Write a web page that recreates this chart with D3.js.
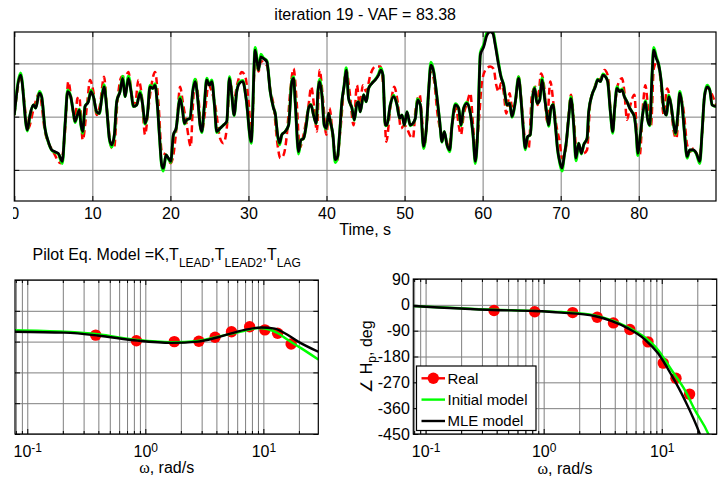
<!DOCTYPE html>
<html><head><meta charset="utf-8">
<script src="https://d3js.org/d3.v7.min.js"></script>
<style>
body{margin:0;background:#fff;}
svg text{font-family:Arial,"Liberation Sans",Helvetica,sans-serif;fill:#000;}
</style></head><body>
<svg id="chart" width="726" height="479"></svg>
<script>
// ---------- Top panel: time series ----------
const timeModel = [0,0.81,1.67,2.01,2.44,2.74,3.21,3.50,3.93,4.36,4.79,5.21,5.64,6.15,6.50,6.84,7.22,7.56,7.78,8.08,8.33,8.55,8.76,9.06,9.49,9.83,10.13,10.56,10.90,11.20,11.50,11.84,12.18,12.48,12.82,13.12,13.55,13.89,14.19,14.62,14.96,15.26,15.68,16.11,16.45,16.75,17.05,17.39,17.74,18.03,18.33,18.59,18.89,19.10,19.44,19.74,20.04,20.38,20.73,21.24,21.58,21.79,22.09,22.52,22.86,23.16,23.50,23.80,24.02,24.32,24.66,25.00,25.30,25.64,25.94,26.37,26.79,27.22,27.56,27.86,28.16,28.50,28.85,29.27,29.70,30.35,30.86,31.29,31.59,31.93,32.36,32.79,33.21,33.43,33.73,33.98,34.28,34.71,35.14,35.56,35.78,35.99,36.42,36.72,37.06,37.40,37.70,38.00,38.34,38.68,38.90,39.11,39.41,39.71,39.97,40.26,40.48,40.82,41.12,41.42,41.67,41.97,42.27,42.53,42.83,43.26,43.56,43.90,44.11,44.32,44.75,45.09,45.39,45.82,46.25,46.67,46.97,47.23,47.53,47.74,48.17,48.60,49.03,49.37,49.67,49.97,50.31,50.73,51.08,51.38,51.67,52.02,52.44,52.79,53.08,53.38,53.73,54.07,54.50,54.79,55.09,55.44,55.78,56.08,56.50,56.93,57.23,57.57,58.00,58.43,58.77,59.07,59.37,59.71,60.14,60.56,60.98,61.32,61.62,62.05,62.35,62.69,63.12,63.46,63.76,64.19,64.61,64.91,65.17,65.47,65.77,66.11,66.45,66.67,66.97,67.31,67.61,67.95,68.25,68.46,68.76,69.02,69.32,69.61,69.87,70.17,70.47,70.73,71.02,71.32,71.67,71.96,72.31,72.65,72.95,73.38,73.59,74.02,74.44,74.74,75.08,75.43,75.73,76.02,76.37,76.67,76.92,77.22,77.56,77.86,78.16,78.50,78.85,79.14,79.44,79.70,79.87,80.21,80.55,80.85,81.15,81.41,81.71,81.92,82.26,82.56,82.86,83.20,83.55,83.85,84.14,84.49,84.70,85.00,85.26,85.55,85.85,86.20,86.54,86.97,87.39,87.82,88.12,88.42,88.76,89.10,89.40,89.90];
const mleValues = [0.03,0.78,-0.25,0.03,0.22,0.16,0.44,0.375,-0.22,-0.47,-0.625,-0.66,-0.69,-0.84,-0.16,0.47,0.375,0.09,-0.09,0.03,0.125,-0.16,-0.28,0.19,0.28,0.47,0.375,0.09,0.06,0.34,0.56,0.16,-0.41,-0.53,-0.34,0.28,0.47,0.72,0.375,0.72,0.47,0.19,0.22,0.44,0.22,-0.125,0.03,0.56,0.53,0.59,0.22,-0.34,-0.91,-0.97,-0.72,-0.78,-0.84,-0.34,-0.22,0.34,0.09,-0.125,-0.06,-0.03,0.47,0.66,0.34,-0.16,-0.28,0.16,0.69,0.59,0.66,0.22,-0.28,-0.22,-0.16,-0.09,0.72,0.41,0.03,0.47,0.625,0.66,0.34,-0.47,1.25,0.875,1.125,1.09,1.03,0.47,0.16,0.06,-0.34,-0.5,-0.34,-0.28,-0.16,0.66,0.72,0.28,-0.66,-0.44,-0.41,-0.16,0.16,0.22,0.03,-0.125,0.47,0.66,0.41,-0.16,-0.22,0.06,-0.09,-0.34,-0.81,-0.75,-0.34,0.28,0.59,0.875,0.34,0.16,-0.06,0.25,0.28,0.09,0.41,0.28,0.53,0.625,0.69,0.78,0.875,0.78,-0.16,-0.16,0.22,0.375,0.22,-0.03,0.03,-0.16,0.09,-0.16,-0.125,-0.03,0.31,0.22,-0.56,-0.22,0.47,0.97,0.84,0.47,-0.09,-0.47,-0.28,-0.53,-0.625,-0.16,0.22,0.16,-0.16,0.16,0.25,0.06,-0.34,-0.84,-0.28,1.16,1.31,1.53,1.59,1.56,1.34,0.97,0.75,0.59,0.22,0.25,0,0.28,0.72,0.34,-0.16,-0.59,-0.375,-0.34,0.41,0.53,0.25,0.31,0.69,0.34,0.03,-0.16,0.16,0.22,-0.16,-0.625,-0.84,-0.97,-0.72,-0.47,-0.03,0.34,-0.16,-0.78,-0.5,-0.69,-0.53,-0.41,0.09,0.41,0.56,0.69,0.66,0.78,0.75,0.66,0.09,-0.28,0.16,0.53,0.47,0.5,0.375,0.28,0.16,0.09,0,-0.34,-0.69,-0.34,0.09,0.28,-0.06,-0.16,0.78,1.25,1.09,0.97,0.69,0.16,0.03,0.375,0.22,-0.16,-0.31,0.03,0.44,0.22,-0.28,-0.75,-0.625,-0.625,-0.69,-0.84,-0.28,0.375,0.56,0.5,0.22,0.19];
const initValues = [0.03,0.82,-0.27,0.03,0.22,0.16,0.47,0.38,-0.22,-0.48,-0.63,-0.67,-0.7,-0.88,-0.16,0.5,0.38,0.08,-0.11,0.03,0.14,-0.17,-0.31,0.19,0.29,0.5,0.38,0.08,0.06,0.35,0.6,0.16,-0.42,-0.57,-0.35,0.28,0.48,0.76,0.38,0.76,0.48,0.19,0.22,0.47,0.22,-0.14,0.03,0.59,0.53,0.62,0.22,-0.35,-0.93,-1.02,-0.72,-0.79,-0.86,-0.35,-0.23,0.37,0.09,-0.14,-0.06,-0.03,0.48,0.7,0.34,-0.16,-0.3,0.16,0.72,0.6,0.69,0.22,-0.3,-0.22,-0.16,-0.1,0.75,0.41,0.02,0.48,0.65,0.68,0.34,-0.5,1.3,0.88,1.17,1.1,1.05,0.47,0.16,0.06,-0.35,-0.53,-0.34,-0.28,-0.16,0.68,0.75,0.28,-0.7,-0.44,-0.41,-0.16,0.16,0.23,0.03,-0.13,0.48,0.7,0.41,-0.17,-0.23,0.06,-0.09,-0.35,-0.86,-0.76,-0.34,0.28,0.6,0.92,0.34,0.16,-0.07,0.25,0.28,0.09,0.41,0.28,0.53,0.63,0.7,0.8,0.91,0.78,-0.17,-0.16,0.22,0.4,0.22,-0.03,0.03,-0.16,0.09,-0.17,-0.13,-0.03,0.33,0.22,-0.6,-0.22,0.48,1.02,0.85,0.47,-0.09,-0.48,-0.28,-0.54,-0.66,-0.16,0.24,0.16,-0.17,0.16,0.27,0.06,-0.35,-0.88,-0.28,1.2,1.35,1.58,1.62,1.6,1.38,1.0,0.76,0.6,0.22,0.25,-0.01,0.28,0.75,0.34,-0.16,-0.62,-0.38,-0.34,0.41,0.55,0.25,0.31,0.72,0.34,0.03,-0.18,0.16,0.23,-0.16,-0.63,-0.86,-1.02,-0.72,-0.47,-0.03,0.37,-0.16,-0.83,-0.5,-0.7,-0.53,-0.41,0.09,0.41,0.57,0.7,0.66,0.8,0.76,0.66,0.09,-0.31,0.16,0.56,0.47,0.52,0.38,0.28,0.16,0.09,0,-0.35,-0.73,-0.34,0.09,0.3,-0.06,-0.17,0.8,1.3,1.12,0.98,0.69,0.16,0.03,0.4,0.22,-0.16,-0.33,0.03,0.47,0.22,-0.28,-0.78,-0.63,-0.63,-0.7,-0.88,-0.28,0.38,0.59,0.5,0.22,0.19];
const timeReal = [0,0.81,1.79,2.44,3.21,3.93,5.0,5.94,6.50,6.92,7.35,7.78,8.08,8.33,8.55,8.76,9.36,9.70,10.13,10.56,10.98,11.50,11.92,12.48,12.78,13.21,13.76,14.19,14.62,15.04,15.47,15.90,16.32,16.75,17.18,17.61,18.03,18.46,18.89,19.44,20.04,20.38,20.81,21.24,21.58,22.09,22.61,22.86,23.16,23.59,24.02,24.44,24.87,25.30,25.73,26.37,26.79,27.22,27.65,28.08,28.59,29.15,29.6,30.0,30.4,30.86,31.3,31.6,32.0,32.4,32.8,33.21,33.73,34.07,34.5,34.92,35.35,35.78,36.2,36.55,37.06,37.7,38.04,38.43,38.77,39.11,39.54,39.97,40.39,40.82,41.33,41.76,42.53,42.96,43.47,43.90,44.24,44.67,45.09,45.61,46.25,46.89,47.32,47.66,48.17,48.68,49.11,49.54,49.97,50.31,50.65,51.08,51.38,51.93,52.23,52.53,52.87,53.30,53.73,54.24,54.79,55.22,55.65,56.08,56.63,56.93,57.23,57.57,58.0,58.43,58.77,59.11,59.54,59.92,60.48,60.98,61.41,61.75,62.05,62.35,62.69,63.03,63.46,63.76,64.19,64.61,65.04,65.47,65.90,66.32,66.75,67.05,67.48,67.91,68.25,68.67,69.10,69.44,69.87,70.17,70.60,71.02,71.32,71.67,72.09,72.52,72.95,73.38,73.80,74.23,74.74,75.17,75.60,76.02,76.37,76.67,77.01,77.31,77.86,78.16,78.50,78.93,79.44,79.79,80.13,80.55,80.85,81.28,81.58,81.92,82.35,82.78,83.20,83.63,84.06,84.49,84.83,85.26,85.77,86.20,86.62,87.05,87.69,88.12,88.42,88.85,89.40,89.90];
const realValues = [0.03,0.72,-0.22,0.125,0.44,-0.28,-0.66,-0.875,-0.28,0.66,0.28,-0.09,0.34,0.375,-0.03,-0.44,0.28,0.69,0.47,0.03,0.22,0.75,0.03,-0.59,-0.59,0.28,0.75,0.75,0.84,0.41,0.22,0.69,0.41,-0.34,0.16,0.625,0.84,0.28,-0.66,-0.72,-0.875,-0.72,-0.16,0.56,0.28,-0.16,-0.56,0.16,0.72,0.34,-0.28,0.09,0.59,0.47,0.22,-0.41,-0.5,-0.22,0.69,0.28,0.625,0.84,0.75,0.3,-0.34,1.1,0.85,1.05,1.0,0.95,0.5,0.22,-0.53,-0.78,-0.72,-0.34,0.47,0.9,0.22,-0.59,-0.34,0.22,0.56,0.16,-0.28,0.875,0.34,-0.34,0.16,-0.41,-0.84,-0.28,0.875,0.47,-0.16,0.59,0.22,0.59,0.47,0.78,0.94,0.94,0.47,-0.47,0.16,0.56,0.28,-0.22,-0.16,-0.22,-0.34,-0.41,0.09,0.41,-0.03,-0.56,-0.09,0.84,0.72,0.03,-0.34,-0.41,-0.59,-0.16,0.16,-0.16,-0.34,0.03,0.25,0.44,-0.16,-0.66,-0.03,0.66,0.9,0.94,0.9,0.59,0.47,0.625,0.47,0.06,0.44,0.19,0.28,0.75,0.16,-0.47,-0.59,0.41,0.56,0.22,0.81,0.53,-0.09,0.66,0.22,-0.16,-0.47,-0.78,-0.66,0.03,0.41,-0.03,-0.72,-0.59,-0.69,-0.625,0.28,0.5,0.69,0.72,0.875,0.78,0.16,-0.22,0.28,0.59,0.72,0.47,-0.06,0.22,0.41,-0.41,-0.72,0.22,0.59,0.03,-0.16,0.9,1.03,0.72,0.03,0.53,0.28,-0.28,-0.41,0.41,0.09,-0.53,-0.66,-0.59,-0.78,-0.34,0.375,0.56,0.41,0.22];
const timeTicks = [0,10,20,30,40,50,60,70,80];
const ampTicks = [-1,0,1];

// ---------- Bottom panels: frequency response ----------
const freqReal = [0.38,0.84,1.76,2.84,3.9,5.37,7.65,10.3,13.2,17.2];
const magReal = [-7.9,-9.7,-10.0,-9.9,-8.6,-6.8,-5.2,-6.2,-7.3,-10.8];
const phaseReal = [-20,-24,-27,-43,-63,-86,-129,-203,-256,-311];
const freqMagMLE = [0.0787,0.206,0.395,0.863,1.66,2.79,4.12,6.93,9.6,12.5,15.2,19.7,29.2];
const magMLE = [-6.8,-7.1,-8.0,-9.7,-10.4,-10.0,-8.6,-6.2,-5.4,-5.8,-7.3,-10.0,-13.3];
const freqMagInit = [0.0787,0.206,0.395,0.863,1.66,2.79,4.12,6.93,9.0,11.0,13.3,16.2,21,29.2];
const magInit = [-6.3,-6.8,-7.6,-9.5,-10.2,-9.8,-8.4,-6.5,-5.6,-6.0,-7.3,-9.5,-12.2,-15.8];
const freqPhaseMLE = [0.0787,0.38,0.83,1.41,2.7,3.74,5.18,7.17,9.3,12.1,15.7,21,24];
const phaseMLE = [-4,-18,-21.5,-27,-39,-56,-82,-120,-169,-245,-332,-450,-520];
const freqPhaseInit = [0.0787,0.38,0.83,1.41,2.7,3.74,5.18,7.17,9.3,12.1,15.7,19.05,24.8,28];
const phaseInit = [-4,-17,-21,-25,-36.5,-53,-78,-113,-157,-227,-297,-366,-450,-510];
const magTicks = [-40,-30,-20,-10,0,10];
const phaseTicks = [-450,-360,-270,-180,-90,0,90];
const decadeTicks = [0.1,1,10];
const minorFreqTicks = [0.08,0.09,0.2,0.3,0.4,0.5,0.6,0.7,0.8,0.9,2,3,4,5,6,7,8,9,20];
const legendLabels = ["Real","Initial model","MLE model"];
const seriesColors = ["#ff0000","#00ff00","#000000"];

// ---------- drawing ----------
const svg = d3.select("#chart");
const gridColor = "#7f7f7f";
const FS = 16;

function drawGrid(g, xs, xTicks, ys, yTicks, box){
  g.append("g").attr("transform",`translate(0,${box.b})`)
    .call(d3.axisBottom(xs).tickValues(xTicks).tickSize(-(box.b-box.t)).tickFormat(""))
    .call(s=>{s.select(".domain").remove(); s.selectAll("line").attr("stroke",gridColor).attr("stroke-width",1);});
  g.append("g").attr("transform",`translate(${box.l},0)`)
    .call(d3.axisLeft(ys).tickValues(yTicks).tickSize(-(box.r-box.l)).tickFormat(""))
    .call(s=>{s.select(".domain").remove(); s.selectAll("line").attr("stroke",gridColor).attr("stroke-width",1);});
}
function inwardTicks(g, xs, xTicks, ys, yTicks, box, len){
  const st = s=>{s.select(".domain").remove(); s.selectAll("line").attr("stroke","#000");};
  g.append("g").attr("transform",`translate(0,${box.t})`)
    .call(d3.axisTop(xs).tickValues(xTicks).tickSizeInner(-len).tickSizeOuter(0).tickFormat("")).call(st);
  g.append("g").attr("transform",`translate(0,${box.b})`)
    .call(d3.axisBottom(xs).tickValues(xTicks).tickSizeInner(-len).tickSizeOuter(0).tickFormat("")).call(st);
  if (ys){
    g.append("g").attr("transform",`translate(${box.l},0)`)
      .call(d3.axisLeft(ys).tickValues(yTicks).tickSizeInner(-len).tickSizeOuter(0).tickFormat("")).call(st);
    g.append("g").attr("transform",`translate(${box.r},0)`)
      .call(d3.axisRight(ys).tickValues(yTicks).tickSizeInner(-len).tickSizeOuter(0).tickFormat("")).call(st);
  }
}
function frame(g, box){
  g.append("rect").attr("x",box.l).attr("y",box.t).attr("width",box.r-box.l).attr("height",box.b-box.t)
    .attr("fill","none").attr("stroke","#000").attr("stroke-width",1.2);
}
function clip(id, box){
  svg.append("clipPath").attr("id",id).append("rect")
    .attr("x",box.l).attr("y",box.t).attr("width",box.r-box.l).attr("height",box.b-box.t);
}

// ===== Top panel =====
const T = {l:14.3, r:716, t:32, b:201};
const xT = d3.scaleLinear().domain([0,89.9]).range([T.l,T.r]);
const yT = d3.scaleLinear().domain([-1.585,1.59]).range([T.b,T.t]);
const gT = svg.append("g");
drawGrid(gT, xT, timeTicks, yT, ampTicks, T);
clip("clipT", T);
const lineT = d3.line().x(d=>xT(d[0])).y(d=>yT(d[1])).curve(d3.curveMonotoneX);
const gTL = gT.append("g").attr("clip-path","url(#clipT)");
gTL.append("path").datum(d3.zip(timeReal, realValues)).attr("d",lineT)
  .attr("fill","none").attr("stroke",seriesColors[0]).attr("stroke-width",2.5).attr("stroke-dasharray","7,4");
gTL.append("path").datum(d3.zip(timeModel, initValues)).attr("d",lineT)
  .attr("fill","none").attr("stroke",seriesColors[1]).attr("stroke-width",3);
gTL.append("path").datum(d3.zip(timeModel, mleValues)).attr("d",lineT)
  .attr("fill","none").attr("stroke",seriesColors[2]).attr("stroke-width",2.7);
inwardTicks(gT, xT, timeTicks, yT, ampTicks, T, 5);
frame(gT, T);
gT.append("g").attr("transform",`translate(0,${T.b})`)
  .call(d3.axisBottom(xT).tickValues(timeTicks).tickSize(0).tickPadding(7).tickFormat(d=>String(d)))
  .call(s=>{s.select(".domain").remove(); s.selectAll("text").attr("font-size",FS).attr("font-family",null);});
svg.append("text").attr("x",(T.l+T.r)/2).attr("y",235).attr("text-anchor","middle").attr("font-size",FS).text("Time, s");
svg.append("text").attr("x",(T.l+T.r)/2).attr("y",20).attr("text-anchor","middle").attr("font-size",FS).text("iteration 19 - VAF = 83.38");

// ===== helpers for Bode panels =====
function logLabels(sel){
  sel.selectAll(".tick text").each(function(d){
    const t = d3.select(this);
    const e = Math.round(Math.log10(d));
    t.text(null);
    t.append("tspan").text("10");
    t.append("tspan").attr("dy","-5").attr("font-size","12px").text(String(e));
  });
}
function omegaLabel(x, y){
  const t = svg.append("text").attr("x",x).attr("y",y).attr("text-anchor","middle").attr("font-size",FS);
  t.append("tspan").attr("font-family","'Liberation Serif','Times New Roman',serif").text("ω");
  t.append("tspan").text(", rad/s");
}
const fDomain = [0.0787, 29.2];

// ===== Magnitude panel =====
const M = {l:15, r:318.3, t:280, b:434};
const xM = d3.scaleLog().domain(fDomain).range([M.l,M.r]);
const yM = d3.scaleLinear().domain([-40,10]).range([M.b,M.t]);
const gM = svg.append("g");
drawGrid(gM, xM, decadeTicks.concat(minorFreqTicks), yM, magTicks, M);
clip("clipM", M);
const lineM = d3.line().x(d=>xM(d[0])).y(d=>yM(d[1])).curve(d3.curveMonotoneX);
const gML = gM.append("g").attr("clip-path","url(#clipM)");
gML.selectAll("circle").data(d3.zip(freqReal, magReal)).join("circle")
  .attr("cx",d=>xM(d[0])).attr("cy",d=>yM(d[1])).attr("r",5.7).attr("fill",seriesColors[0]);
gML.append("path").datum(d3.zip(freqMagInit, magInit)).attr("d",lineM)
  .attr("fill","none").attr("stroke",seriesColors[1]).attr("stroke-width",2.4);
gML.append("path").datum(d3.zip(freqMagMLE, magMLE)).attr("d",lineM)
  .attr("fill","none").attr("stroke",seriesColors[2]).attr("stroke-width",2.4);
inwardTicks(gM, xM, decadeTicks, yM, magTicks, M, 5);
inwardTicks(gM, xM, minorFreqTicks, null, null, M, 3);
frame(gM, M);
gM.append("g").attr("transform",`translate(0,${M.b})`)
  .call(d3.axisBottom(xM).tickValues(decadeTicks).tickSize(0).tickPadding(11.5))
  .call(s=>{s.select(".domain").remove(); s.selectAll("text").attr("font-size",FS).attr("font-family",null);})
  .call(logLabels);
omegaLabel((M.l+M.r)/2, 473);
const sub = svg.append("text").attr("x",(M.l+M.r)/2).attr("y",260).attr("text-anchor","middle").attr("font-size",FS);
sub.append("tspan").text("Pilot Eq. Model =K,T");
sub.append("tspan").attr("dy","6.5").attr("font-size","12px").text("LEAD");
sub.append("tspan").attr("dy","-6.5").text(",T");
sub.append("tspan").attr("dy","6.5").attr("font-size","12px").text("LEAD2");
sub.append("tspan").attr("dy","-6.5").text(",T");
sub.append("tspan").attr("dy","6.5").attr("font-size","12px").text("LAG");

// ===== Phase panel =====
const P = {l:413.3, r:716.7, t:279, b:434};
const xP = d3.scaleLog().domain(fDomain).range([P.l,P.r]);
const yP = d3.scaleLinear().domain([-450,90]).range([P.b,P.t]);
const gP = svg.append("g");
drawGrid(gP, xP, decadeTicks.concat(minorFreqTicks), yP, phaseTicks, P);
clip("clipP", P);
const lineP = d3.line().x(d=>xP(d[0])).y(d=>yP(d[1])).curve(d3.curveMonotoneX);
const gPL = gP.append("g").attr("clip-path","url(#clipP)");
gPL.selectAll("circle").data(d3.zip(freqReal, phaseReal)).join("circle")
  .attr("cx",d=>xP(d[0])).attr("cy",d=>yP(d[1])).attr("r",5.7).attr("fill",seriesColors[0]);
gPL.append("path").datum(d3.zip(freqPhaseInit, phaseInit)).attr("d",lineP)
  .attr("fill","none").attr("stroke",seriesColors[1]).attr("stroke-width",2.4);
gPL.append("path").datum(d3.zip(freqPhaseMLE, phaseMLE)).attr("d",lineP)
  .attr("fill","none").attr("stroke",seriesColors[2]).attr("stroke-width",2.4);
inwardTicks(gP, xP, decadeTicks, yP, phaseTicks, P, 5);
inwardTicks(gP, xP, minorFreqTicks, null, null, P, 3);
frame(gP, P);
gP.append("g").attr("transform",`translate(0,${P.b})`)
  .call(d3.axisBottom(xP).tickValues(decadeTicks).tickSize(0).tickPadding(11.5))
  .call(s=>{s.select(".domain").remove(); s.selectAll("text").attr("font-size",FS).attr("font-family",null);})
  .call(logLabels);
gP.append("g").attr("transform",`translate(${P.l},0)`)
  .call(d3.axisLeft(yP).tickValues(phaseTicks).tickSize(0).tickPadding(3.5).tickFormat(d=>String(d)))
  .call(s=>{s.select(".domain").remove(); s.selectAll("text").attr("font-size",FS).attr("font-family",null);});
omegaLabel((P.l+P.r)/2, 474);
const yl = svg.append("text").attr("transform",`translate(371.5,${(P.t+P.b)/2}) rotate(-90)`)
  .attr("text-anchor","middle").attr("font-size",FS);
yl.append("tspan").attr("font-family","'Liberation Serif','Times New Roman',serif").text("∠");
yl.append("tspan").text(" H");
yl.append("tspan").attr("dy","4.5").attr("font-size","12px").text("p");
yl.append("tspan").attr("dy","-4.5").text(", deg");

// legend
const L = {x:416.5, y:366, w:119.5, h:64.5};
const gL = svg.append("g");
gL.append("rect").attr("x",L.x).attr("y",L.y).attr("width",L.w).attr("height",L.h)
  .attr("fill","#fff").attr("stroke","#000").attr("stroke-width",1.2);
const rowY = [378.3, 399.6, 421];
legendLabels.forEach((lab,i)=>{
  gL.append("line").attr("x1",421.5).attr("x2",445).attr("y1",rowY[i]).attr("y2",rowY[i])
    .attr("stroke",seriesColors[i]).attr("stroke-width",2.4);
  if (i===0) gL.append("circle").attr("cx",433.3).attr("cy",rowY[i]).attr("r",5.7).attr("fill",seriesColors[0]);
  gL.append("text").attr("x",447.5).attr("y",rowY[i]).attr("dy","0.35em").attr("font-size",15).text(lab);
});

// figure crop at the left edge (the "0" label is cut in the original)
svg.append("rect").attr("x",0).attr("y",202).attr("width",13).attr("height",30).attr("fill","#fff");
</script>
</body></html>
